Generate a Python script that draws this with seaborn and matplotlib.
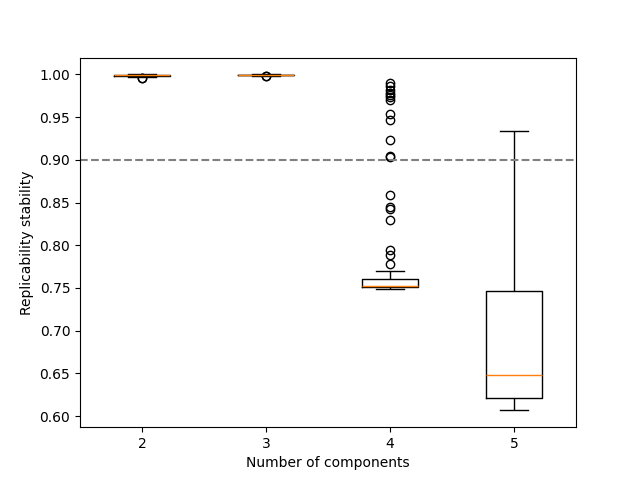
import matplotlib
matplotlib.use("Agg")
import matplotlib.pyplot as plt
import numpy as np
import pandas as pd
import seaborn as sns

# --- data: replicability stability per number of components ---
components = ["2", "3", "4", "5"]

stab_2 = [0.9953, 0.9957, 0.9972, 0.9978, 0.9982, 0.9985, 0.9986, 0.9987,
          0.9988, 0.9989, 0.9990, 0.9991, 0.9992, 0.9993, 0.9994, 0.9995,
          0.9996, 0.9997, 0.9998, 0.9999, 1.0000]

stab_3 = [0.9978, 0.9981, 0.9985, 0.9988, 0.9990, 0.9992, 0.9993, 0.9993,
          0.9994, 0.9994, 0.9995, 0.9996, 0.9996, 0.9997, 0.9997, 0.9998,
          0.9998, 0.9999, 0.9999, 1.0000, 1.0000]

stab_4 = [0.7485, 0.7488, 0.7490, 0.7492, 0.7494, 0.7495, 0.7497, 0.7498,
          0.7499, 0.7500, 0.7501, 0.7502, 0.7503, 0.7504, 0.7505, 0.7506,
          0.7507, 0.7508, 0.7509, 0.7509, 0.7510,
          0.7511, 0.7512, 0.7512, 0.7513, 0.7514, 0.7515, 0.7515, 0.7516,
          0.7517, 0.7518, 0.7518, 0.7519, 0.7520, 0.7520, 0.7521, 0.7522,
          0.7522, 0.7523, 0.7523, 0.7524,
          0.7526, 0.7529, 0.7532, 0.7536, 0.7540, 0.7545, 0.7550, 0.7555,
          0.7560, 0.7565, 0.7570, 0.7575, 0.7580, 0.7584, 0.7588, 0.7592,
          0.7597, 0.7601, 0.7606, 0.7610,
          0.7696,
          0.7786, 0.7883, 0.7942, 0.8292, 0.8421, 0.8448, 0.8593, 0.9038,
          0.9045, 0.9236, 0.9470, 0.9540, 0.9696, 0.9735, 0.9754, 0.9782,
          0.9821, 0.9860, 0.9899]

stab_5 = [0.6067, 0.6102, 0.6135, 0.6161, 0.6190, 0.6214, 0.6268, 0.6315,
          0.6372, 0.6420, 0.6476, 0.6583, 0.6704, 0.6891, 0.7152, 0.7466,
          0.7781, 0.8124, 0.8512, 0.8907, 0.9333]

threshold = 0.9

# long format for seaborn
rows = []
for comp, vals in zip(components, [stab_2, stab_3, stab_4, stab_5]):
    for v in vals:
        rows.append({"n_components": comp, "stability": v})
df = pd.DataFrame(rows)

fig, ax = plt.subplots(figsize=(6.4, 4.8), dpi=100)

sns.boxplot(
    data=df, x="n_components", y="stability", order=components,
    width=0.45, fill=False, color="black", linewidth=1.0, fliersize=6,
    medianprops=dict(color="#ff7f0e", linewidth=1.0),
    flierprops=dict(marker="o", markerfacecolor="none",
                    markeredgecolor="black", markersize=6),
    ax=ax,
)

ax.axhline(threshold, color="gray", linestyle="--", linewidth=1.5)

ax.set_xlabel("Number of components")
ax.set_ylabel("Replicability stability")

plt.savefig("out.png", dpi=100)
